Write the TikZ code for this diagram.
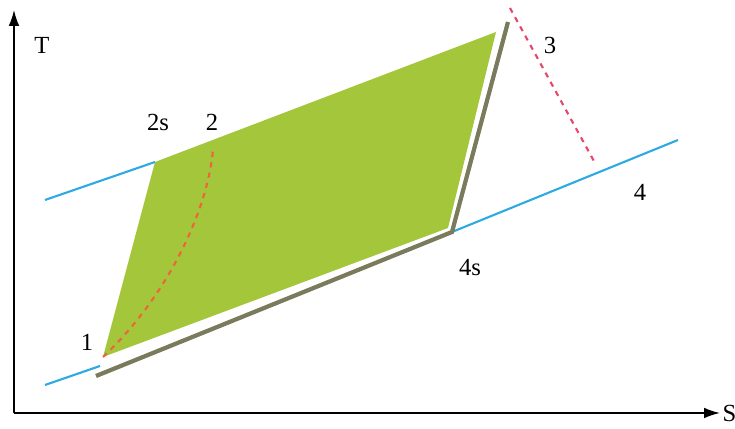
\documentclass[tikz,border=0pt]{standalone}
\usepackage{fontspec}
\setmainfont{Liberation Serif}
\usetikzlibrary{arrows.meta}
\definecolor{cyclegreen}{RGB}{164,198,58}
\definecolor{isobarblue}{RGB}{45,170,225}
\definecolor{realgrey}{RGB}{122,122,92}
\definecolor{comporange}{RGB}{238,100,62}
\definecolor{turbred}{RGB}{230,70,105}

\begin{document}
\begin{tikzpicture}[x=0.02cm,y=0.02cm,>={Latex[length=9pt,width=6pt]},
  font=\fontsize{14}{16}\selectfont]
 \useasboundingbox (0,0) rectangle (735,429);
 % state points
 \coordinate (O) at (14,16);
 \coordinate (P1) at (103,72);
 \coordinate (P2s) at (155,267);
 \coordinate (P3s) at (496,397);
 \coordinate (P4s) at (448,201);
 \coordinate (G1) at (96,53);
 \coordinate (G4s) at (452,197);
 \coordinate (G3) at (508,407);
 \coordinate (P2) at (213,279);
 \coordinate (P3) at (510,421);
 \coordinate (P4) at (595,266);
 \coordinate (Ttop) at (14,419);
 \coordinate (Send) at (720,16);
 % cycle area
 \fill[cyclegreen] (P1)--(P2s)--(P3s)--(P4s)--cycle;
 % isobars
 \draw[isobarblue,line width=1.2pt] (45,44)--(100,63);
 \draw[isobarblue,line width=1.2pt] (G4s)--(678,289);
 \draw[isobarblue,line width=1.2pt] (45,229)--(P2s);
 % heat rejection and expansion
 \draw[realgrey,line width=2.4pt,line join=miter] (G1)--(G4s)--(G3);
 % real compression and expansion
 \draw[comporange,line width=1.2pt,dash pattern=on 3pt off 3pt]
   (P1) .. controls (165,130) and (207,215) .. (P2);
 \draw[turbred,line width=1.2pt,dash pattern=on 3pt off 3pt] (P3)--(P4);
 % axes
 \draw[->,line width=0.9pt] (O)--(Ttop);
 \draw[->,line width=0.9pt] (O)--(Send) node[right,inner sep=1pt] (nS) {S};
 % labels
 \node (nT) at (42,384) {T};
 \node (n1) at (87,87) {1};
 \node (n2s) at (158,307) {2s};
 \node (n2) at (212,307) {2};
 \node (n3) at (550,384) {3};
 \node (n4) at (640,237) {4};
 \node (n4s) at (470,161) {4s};
\end{tikzpicture}
\end{document}
